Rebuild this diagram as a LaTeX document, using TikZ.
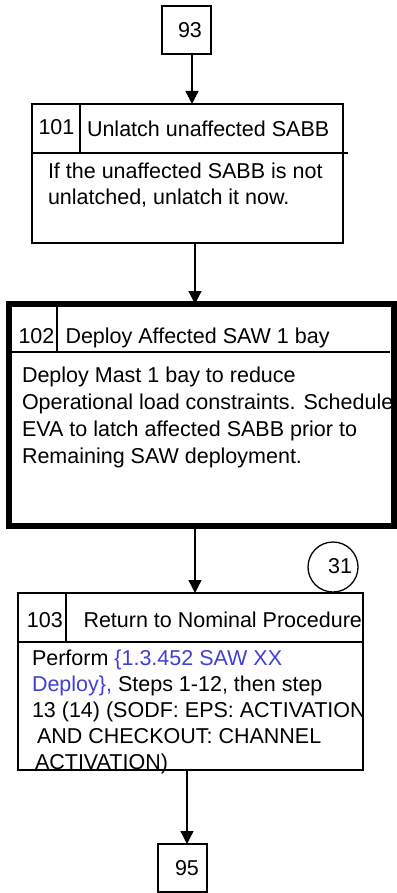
\documentclass[tikz,border=0pt]{standalone}
\usepackage{fontspec}
\setmainfont{Liberation Sans}
\usetikzlibrary{arrows.meta,calc}
\definecolor{linkblue}{RGB}{64,64,214}
\tikzset{
  thin line/.style={line width=1.3pt},
  boxnode/.style={draw,thin line,rectangle,inner sep=0pt,outer sep=0pt},
  txt/.style={anchor=base west,inner sep=0pt,outer sep=0pt,font=\fontsize{21.5}{26}\selectfont},
  flowarrow/.style={thin line,-{Triangle[length=13pt,width=13pt]}},
}
\begin{document}
\begin{tikzpicture}[x=1pt,y=-1pt]
\useasboundingbox (0,0) rectangle (396,893);

% connector boxes
\node[boxnode,minimum width=49pt,minimum height=48pt,font=\fontsize{21.5}{26}\selectfont] (n93) at (186.5,30) {\hspace*{7pt}93};
\node[boxnode,minimum width=49pt,minimum height=48pt,font=\fontsize{21.5}{26}\selectfont] (n95) at (182.5,868) {\hspace*{9pt}95};

% step 101
\node[boxnode,minimum width=311pt,minimum height=139pt] (b101) at (187.5,173.5) {};
\draw[thin line] (32,153) -- (348,153);
\draw[thin line] (80,104) -- (80,153);
\node[txt] (t101n) at (38.5,135) {101};
\node[txt] (t101h) at (87,137) {Unlatch unaffected SABB};
\node[txt] (t101a) at (48,179) {If the unaffected SABB is not};
\node[txt] (t101b) at (48,205) {unlatched, unlatch it now.};

% step 102
\node[boxnode,line width=6pt,minimum width=384.5pt,minimum height=222pt] (b102) at (201.25,415) {};
\draw[thin line] (12,352) -- (389.5,352);
\draw[thin line] (57,307) -- (57,352);
\node[txt] (t102n) at (18.5,343) {102};
\node[txt] (t102h) at (65.5,343) {Deploy Affected SAW 1 bay};
\node[txt] (t102a) at (22,382) {Deploy Mast 1 bay to reduce};
\node[txt] (t102b) at (22,409) {Operational load constraints. Schedule};
\node[txt] (t102c) at (22,436) {EVA to latch affected SABB prior to};
\node[txt] (t102d) at (22,463) {Remaining SAW deployment.};

% step 103
\node[boxnode,minimum width=345pt,minimum height=177pt] (b103) at (190.5,681.5) {};
\draw[thin line] (18,642) -- (363,642);
\draw[thin line] (66,593) -- (66,642);
\node[txt] (t103n) at (27,627) {103};
\node[txt] (t103h) at (83.5,627) {Return to Nominal Procedure};
\node[txt] (t103a) at (32,665) {Perform \textcolor{linkblue}{\{1.3.452 SAW XX}};
\node[txt] (t103b) at (32,691) {\textcolor{linkblue}{Deploy\},} Steps 1-12, then step};
\node[txt] (t103c) at (32,717) {13 (14) (SODF: EPS: ACTIVATION};
\node[txt] (t103d) at (37,743) {AND CHECKOUT: CHANNEL};
\node[txt] (t103e) at (35,769) {ACTIVATION)};

% reference circle
\node[draw,thin line,circle,minimum size=50pt,inner sep=0pt] (c31) at (333,567) {};
\node[txt,anchor=center] (t31) at (340,566) {31};

% connectors
\coordinate (xa) at (192,0);
\coordinate (xb) at (195,0);
\coordinate (xc) at (187,0);
\draw[flowarrow] (n93.south -| xa) -- (b101.north -| xa);
\draw[flowarrow] (b101.south -| xb) -- (b102.north -| xb);
\draw[flowarrow] (b102.south -| xb) -- (b103.north -| xb);
\draw[flowarrow] (b103.south -| xc) -- (n95.north -| xc);
\end{tikzpicture}
\end{document}
